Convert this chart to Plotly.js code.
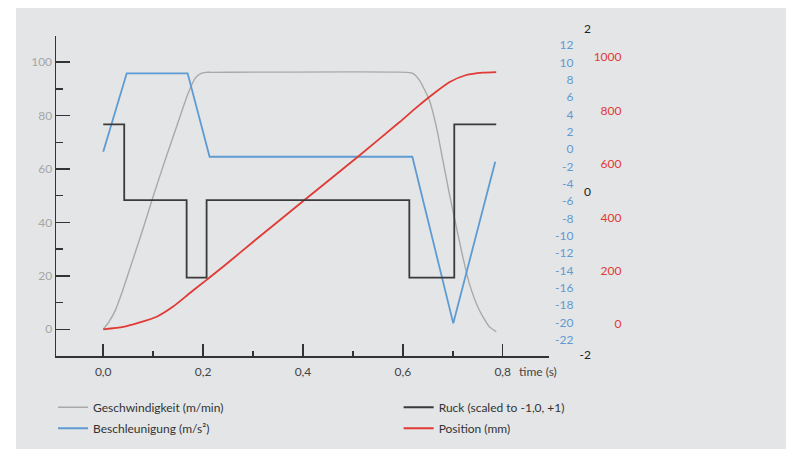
<!DOCTYPE html>
<html><head><meta charset="utf-8">
<script src="https://cdn.plot.ly/plotly-3.0.1.min.js"></script>
<style>
html,body{margin:0;padding:0;background:#ffffff;}
#chart{position:absolute;left:16px;top:8px;width:770px;height:441px;}
</style></head><body><div id="chart"></div>
<script>
// Geschwindigkeit (m/min) – left axis
const geschwT = [0, 0.012, 0.024, 0.037, 0.059, 0.081, 0.102, 0.124, 0.147, 0.17, 0.185, 0.196, 0.206, 0.216, 0.61, 0.62, 0.633, 0.653, 0.667, 0.68, 0.693, 0.707, 0.72, 0.733, 0.753, 0.773, 0.787];
const geschwV = [0, 3, 7, 13.5, 25.9, 38.4, 50.9, 63.4, 75.9, 88.4, 94.2, 95.8, 96.2, 96.2, 96.2, 95.8, 93.3, 85.8, 75.9, 63.4, 50.9, 38.4, 27.2, 17.2, 7.2, 1, -0.9];
// Beschleunigung (m/s²) – blue axis
const beschlT = [0, 0.047, 0.169, 0.213, 0.619, 0.701, 0.785];
const beschlV = [-0.3, 8.74, 8.74, -0.88, -0.88, -20.08, -1.45];
// Ruck (scaled) – black axis
const ruckT = [0, 0.042, 0.167, 0.207, 0.613, 0.703, 0.787];
const ruckV = [0.83, -0.1, -1.05, -0.1, -1.05, 0.83, 0.83];
// Position (mm) – red axis
const posT = [0, 0.04, 0.07, 0.107, 0.14, 0.173, 0.207, 0.24, 0.307, 0.403, 0.51, 0.593, 0.627, 0.66, 0.693, 0.727, 0.76, 0.787];
const posV = [0, 9, 24, 47, 85, 135, 185, 234, 338, 484, 646, 775, 830, 880, 925, 952, 961, 963];

// tick labels (hyphen minus as in the original)
const blueTickVals = [12, 10, 8, 6, 4, 2, 0, -2, -4, -6, -8, -10, -12, -14, -16, -18, -20, -22];
const blueTickText = ['12', '10', '8', '6', '4', '2', '0', '-2', '-4', '-6', '-8', '-10', '-12', '-14', '-16', '-18', '-20', '-22'];
const ruckTickVals = [2, 0, -2];
const ruckTickText = ['2', '0', '-2'];

const names = ['Geschwindigkeit (m/min)', 'Ruck (scaled to -1,0, +1)', 'Beschleunigung (m/s\u00b2)', 'Position (mm)'];
const FONT = 'Lato, "Liberation Sans", sans-serif';
const D = 0.97561;

const traces = [
  {x: ruckT, y: ruckV, yaxis: 'y3', name: names[1], legend: 'legend2', legendgroup: 'g2', legendrank: 1, mode: 'lines', line: {color: '#3a3a3a', width: 1.8, shape: 'hv'}},
  {x: geschwT, y: geschwV, yaxis: 'y', name: names[0], legend: 'legend', legendgroup: 'g1', legendrank: 1, mode: 'lines', line: {color: '#a9a9a9', width: 1.4, shape: 'spline', smoothing: 0.6}},
  {x: beschlT, y: beschlV, yaxis: 'y2', name: names[2], legend: 'legend', legendgroup: 'g3', legendrank: 2, mode: 'lines', line: {color: '#5f9bd3', width: 1.8}},
  {x: posT, y: posV, yaxis: 'y4', name: names[3], legend: 'legend2', legendgroup: 'g4', legendrank: 2, mode: 'lines', line: {color: '#e03a35', width: 1.8, shape: 'spline', smoothing: 0.6}}
];

const legendBase = {orientation: 'v', xanchor: 'left', y: -0.112, yanchor: 'top', bgcolor: 'rgba(0,0,0,0)',
                    tracegroupgap: 2, traceorder: 'grouped', font: {family: FONT, size: 12, color: '#333'}};

const layout = {
  width: 770, height: 441,
  margin: {l: 40, r: 236.5, t: 20, b: 93, pad: 0, autoexpand: false},
  paper_bgcolor: '#e4e5e7', plot_bgcolor: 'rgba(0,0,0,0)',
  separators: ',.',
  font: {family: FONT, size: 12, color: '#444'},
  showlegend: true,
  legend: Object.assign({}, legendBase, {x: -0.006}),
  legend2: Object.assign({}, legendBase, {x: 0.695}),
  xaxis: {domain: [0, 1], anchor: 'y', range: [-0.0946, 0.8927], showgrid: false, zeroline: false,
          showline: true, linecolor: '#333', linewidth: 1.5, ticks: 'inside', ticklen: 12, tickwidth: 1.5, tickcolor: '#333',
          dtick: 0.2, tick0: 0, tickformat: '.1f', ticklabelstandoff: 4,
          minor: {dtick: 0.1, tick0: 0, ticks: 'inside', ticklen: 5, tickwidth: 1.5, tickcolor: '#333'},
          tickfont: {family: FONT, size: 12, color: '#444'}},
  yaxis: {domain: [0, D], anchor: 'x', range: [-10, 109.8], showgrid: false, zeroline: false,
          showline: true, linecolor: '#333', linewidth: 1.5, ticks: 'inside', ticklen: 14, tickwidth: 1.5, tickcolor: '#333',
          dtick: 20, tick0: 0,
          minor: {dtick: 10, tick0: 0, ticks: 'inside', ticklen: 7, tickwidth: 1.5, tickcolor: '#333'},
          tickfont: {family: FONT, size: 12, color: '#a6a6a6'}},
  yaxis2: {overlaying: 'y', anchor: 'free', position: 1, side: 'left', shift: 24.5, range: [-23.844, 13.037],
           showgrid: false, zeroline: false, showline: false, ticks: '', tickmode: 'array', tickvals: blueTickVals, ticktext: blueTickText,
           tickfont: {family: FONT, size: 12, color: '#5f9bd3'}},
  yaxis3: {domain: [0, 1], anchor: 'free', position: 1, side: 'left', shift: 42, range: [-2.01, 2.01],
           showgrid: false, zeroline: false, showline: false, ticks: '', tickmode: 'array', tickvals: ruckTickVals, ticktext: ruckTickText,
           tickfont: {family: FONT, size: 12, color: '#222'}},
  yaxis4: {overlaying: 'y', anchor: 'free', position: 1, side: 'left', shift: 72.5, range: [-100, 1098],
           showgrid: false, zeroline: false, showline: false, ticks: '', dtick: 200, tick0: 0, ticklabelshift: -5,
           tickfont: {family: FONT, size: 12, color: '#e03a35'}},
  yaxis5: {overlaying: 'y', anchor: 'x', side: 'right', range: [-10, 110], showgrid: false, zeroline: false,
           showline: true, linecolor: '#333', linewidth: 1.5, ticks: 'inside', ticklen: 13, tickwidth: 1.5, tickcolor: '#333',
           dtick: 10, tick0: 0, showticklabels: false,
           minor: {dtick: 5, tick0: 0, ticks: 'inside', ticklen: 6, tickwidth: 1.5, tickcolor: '#333'}},
  annotations: [{text: 'time (s)', xref: 'x', x: 0.829, xanchor: 'left', yref: 'paper', y: 0, yanchor: 'top', yshift: -6,
                 showarrow: false, font: {family: FONT, size: 12, color: '#444'}}]
};

Plotly.newPlot('chart', traces, layout, {displayModeBar: false, staticPlot: true});
</script></body></html>
